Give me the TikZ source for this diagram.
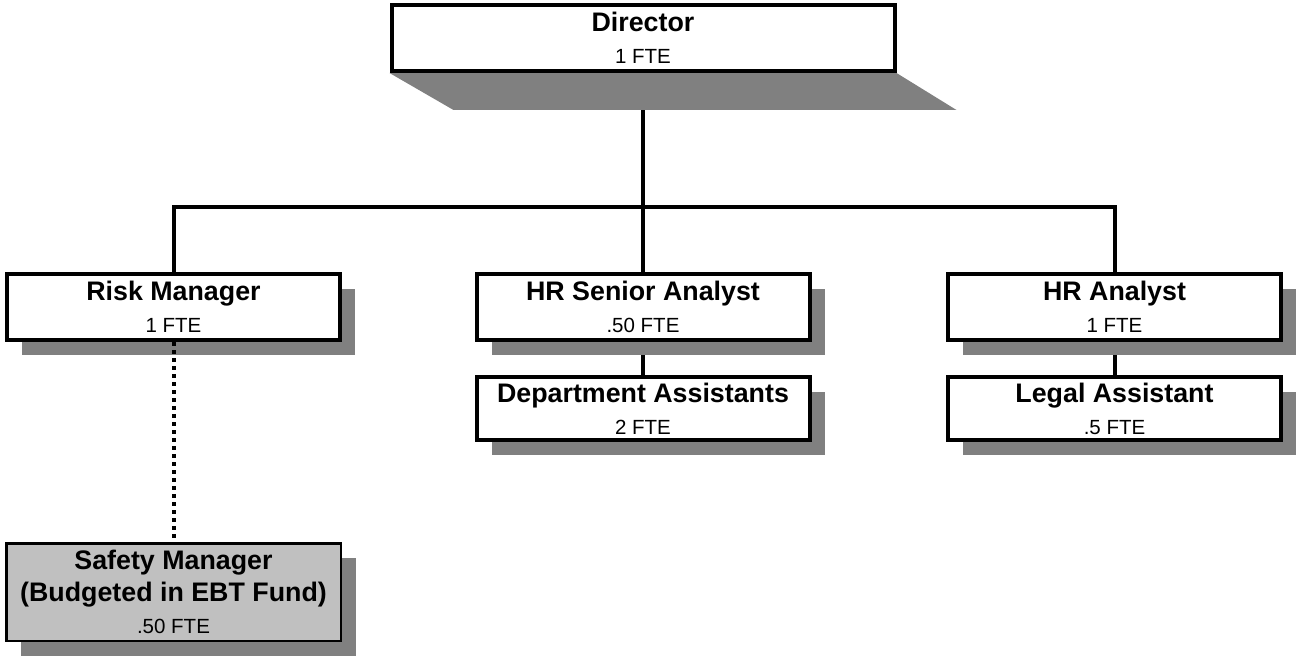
\documentclass[tikz,border=0pt]{standalone}
\usepackage{fontspec}
\setmainfont{Liberation Sans}
\usepackage{xcolor}
\usepackage{tikz}
\usetikzlibrary{positioning,shadows,backgrounds}

\definecolor{shadowgray}{HTML}{808080}
\definecolor{safetygray}{HTML}{C0C0C0}
\newcommand{\jobtitle}[1]{{\fontsize{26.8}{32}\selectfont\bfseries #1}}

\begin{document}
\begin{tikzpicture}[
      x=1pt, y=-1pt,
      post/.style={rectangle, draw, line width=4pt, fill=white, minimum width=333pt, minimum height=66pt, inner sep=0pt, align=center, font=\fontsize{20.5}{32}\selectfont},
      shadowed/.style={drop shadow={shadow xshift=15pt, shadow yshift=-15pt, fill=shadowgray, opacity=1}},
      line/.style={draw, line width=4pt},
      dotline/.style={draw, line width=4pt, dash pattern=on 4pt off 4pt}
    ]
    \useasboundingbox (0,0) rectangle (1299,658);

    \node [post, minimum width=503pt] (director) at (643,38) {\jobtitle{Director}\\1 FTE};
    \node [post, shadowed] (risk) at (173.5,307) {\jobtitle{Risk Manager}\\1 FTE};
    \node [post, shadowed, right of=risk, node distance=469.5pt] (senior) {\jobtitle{HR Senior Analyst}\\.50 FTE};
    \node [post, shadowed, right of=senior, node distance=471.5pt] (analyst) {\jobtitle{HR Analyst}\\1 FTE};
    \node [post, shadowed, minimum height=63pt, below of=senior, node distance=101.5pt] (deptasst) {\jobtitle{Department Assistants}\\2 FTE};
    \node [post, shadowed, minimum height=63pt, below of=analyst, node distance=101.5pt] (legal) {\jobtitle{Legal Assistant}\\.5 FTE};
    \node [post, shadowed, fill=safetygray, line width=2.5pt, minimum width=334.5pt, minimum height=97.5pt, below of=risk, node distance=285pt] (safety) {\jobtitle{Safety Manager}\\\jobtitle{(Budgeted in EBT Fund)}\\.50 FTE};

    \coordinate (dirfoot) at ([yshift=-37pt]director.south);
    \coordinate (bus) at ([yshift=-97pt]dirfoot);

    % solid lines sit behind the boxes and their shadows
    \begin{scope}[on background layer]
      \path [line] (dirfoot) -- (bus);
      \path [line] (risk.north) |- (bus) -| (analyst.north);
      \path [line] (bus) -- (senior.north);
      \path [line] (senior.south) -- (deptasst.north);
      \path [line] (analyst.south) -- (legal.north);
      % slanted shadow under the director box
      \fill [shadowgray] (director.south west) -- (director.south east) -- ++(60,37) -- ++(-503,0) -- cycle;
    \end{scope}

    \path [dotline] (risk.south) -- (safety.north);

\end{tikzpicture}
\end{document}
